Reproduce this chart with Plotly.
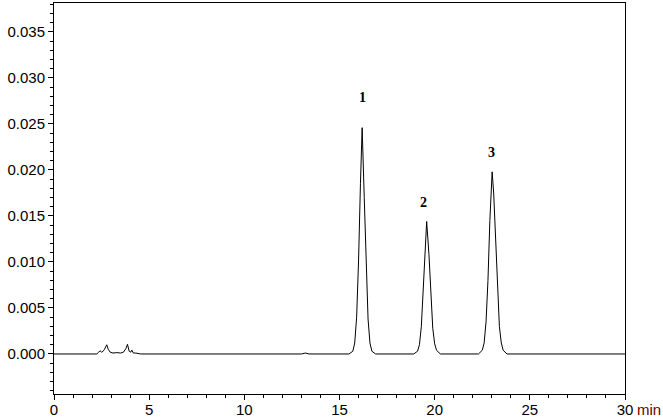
import plotly.graph_objects as go

# Baseline with small early peaks (min, AU)
base_t = [0.0, 2.25, 2.35, 2.42, 2.50, 2.58, 2.65, 2.77, 2.85, 2.95, 3.10, 3.30, 3.50, 3.65, 3.78, 3.86, 3.95, 4.03, 4.09, 4.17, 4.30, 4.55,
          13.0, 13.2, 13.4]
base_v = [0.0, 0.0, 0.0002, 0.00035, 0.0002, 0.0003, 0.0005, 0.0010, 0.0005, 0.0002, 0.0001, 0.00015, 0.0001, 0.0002, 0.0006, 0.00105, 0.0003, 0.0002, 0.00042, 0.0001, 0.0001, 0.0,
          0.0, 0.0001, 0.0]

# Peak 1
p1_t = [15.5, 15.7, 15.8, 15.9, 16.0, 16.1, 16.19, 16.3, 16.4, 16.5, 16.6, 16.7, 16.9]
p1_v = [0.0, 0.0003, 0.0012, 0.0040, 0.0100, 0.0185, 0.0246, 0.0170, 0.0090, 0.0038, 0.0012, 0.0003, 0.0]

# Peak 2
p2_t = [18.9, 19.1, 19.2, 19.3, 19.4, 19.5, 19.58, 19.7, 19.8, 19.9, 20.0, 20.1, 20.3]
p2_v = [0.0, 0.0003, 0.0010, 0.0030, 0.0068, 0.0118, 0.0144, 0.0108, 0.0062, 0.0028, 0.0011, 0.0004, 0.0]

# Peak 3
p3_t = [22.3, 22.5, 22.6, 22.7, 22.8, 22.9, 23.02, 23.1, 23.2, 23.3, 23.4, 23.5, 23.6, 23.8, 30.0]
p3_v = [0.0, 0.0004, 0.0012, 0.0035, 0.0080, 0.0145, 0.0198, 0.0175, 0.0120, 0.0066, 0.0030, 0.0012, 0.0004, 0.0, 0.0]

peak_labels = ["1", "2", "3"]
label_t = [16.21, 19.42, 23.0]
label_v = [0.0279, 0.0165, 0.0219]

t = base_t + p1_t + p2_t + p3_t
v = base_v + p1_v + p2_v + p3_v

fig = go.Figure()
fig.add_trace(go.Scatter(x=t, y=v, mode="lines",
                         line=dict(color="black", width=1), hoverinfo="skip"))

for lab, lt, lv in zip(peak_labels, label_t, label_v):
    fig.add_annotation(x=lt, y=lv, text="<b>%s</b>" % lab, showarrow=False,
                       font=dict(family="Liberation Serif", size=14, color="black"))

fig.add_annotation(xref="paper", yref="paper", x=1.0, y=0, xshift=10, yshift=-5,
                   xanchor="left", yanchor="top", text="min", showarrow=False,
                   font=dict(family="Liberation Sans", size=15, color="#6a0000"))

axis_font = dict(family="Liberation Sans", size=15, color="black")
fig.update_layout(
    width=663, height=418,
    margin=dict(l=54, r=38, t=3, b=24),
    paper_bgcolor="white", plot_bgcolor="white",
    showlegend=False,
    xaxis=dict(range=[0, 30], dtick=5, tick0=0, showgrid=False, zeroline=False,
               automargin=False, ticklabelstandoff=-3,
               showline=True, linecolor="black", linewidth=1, mirror=True,
               ticks="outside", ticklen=5, tickcolor="black", tickfont=axis_font,
               minor=dict(dtick=1, ticks="outside", ticklen=3, tickcolor="black")),
    yaxis=dict(range=[-0.00435, 0.03815], dtick=0.005, tick0=0, tickformat=".3f",
               showgrid=False, zeroline=False, automargin=False,
               showline=True, linecolor="black", linewidth=1, mirror=True,
               ticks="outside", ticklen=5, tickcolor="black", tickfont=axis_font,
               minor=dict(dtick=0.001, ticks="outside", ticklen=3, tickcolor="black")),
)

fig.write_html("out.html", config={"displayModeBar": False},
               post_script="document.body.style.margin='0';document.body.style.overflow='hidden';")
